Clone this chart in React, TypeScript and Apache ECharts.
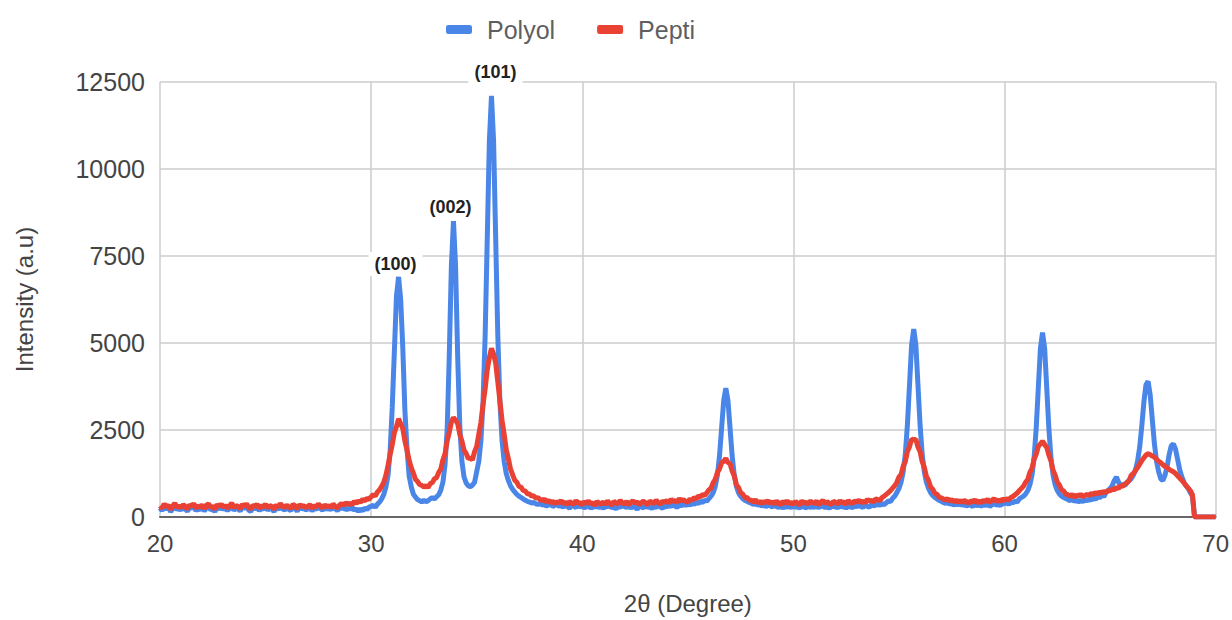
import React, { useEffect, useRef } from "react";
import * as echarts from "echarts";

// 2θ grid: first angle and step (degrees)
const ANGLE_START = 20;
const ANGLE_STEP = 0.1;

// Polyol intensities, one row per degree (x.0 … x.9)
const polyol = [
  260, 180, 310, 220, 290, 150, 240, 330, 200, 270, // 20
  190, 300, 230, 160, 280, 250, 320, 180, 240, 210, // 21
  290, 170, 260, 310, 200, 240, 150, 280, 230, 300, // 22
  210, 270, 180, 250, 320, 190, 260, 230, 170, 290, // 23
  240, 310, 200, 160, 270, 230, 290, 180, 250, 220, // 24
  300, 190, 260, 230, 150, 280, 210, 320, 240, 200, // 25
  270, 220, 180, 300, 250, 160, 290, 230, 260, 200, // 26
  230, 290, 170, 260, 210, 310, 240, 190, 280, 220, // 27
  260, 200, 300, 240, 180, 270, 230, 310, 200, 250, // 28
  220, 280, 190, 240, 160, 230, 180, 260, 210, 290, // 29
  300, 340, 280, 370, 430, 520, 650, 860, 1200, 1900, // 30
  3150, 4750, 6350, 6900, 6250, 4850, 3050, 1950, 1180, 870, // 31
  660, 570, 500, 470, 430, 480, 440, 470, 520, 560, // 32
  520, 580, 640, 770, 1000, 1500, 2500, 4600, 7200, 8500, // 33
  7200, 4600, 2600, 1600, 1150, 980, 900, 870, 920, 1000, // 34
  1300, 1600, 2200, 3300, 5200, 8000, 10800, 12100, 10800, 8000, // 35
  5200, 3300, 2200, 1600, 1250, 1050, 900, 800, 720, 650, // 36
  600, 560, 520, 480, 450, 430, 400, 420, 380, 360, // 37
  390, 340, 370, 310, 350, 380, 300, 340, 360, 310, // 38
  330, 280, 360, 300, 250, 340, 310, 270, 350, 290, // 39
  320, 260, 300, 350, 240, 310, 280, 330, 270, 300, // 40
  250, 320, 290, 340, 260, 300, 230, 310, 280, 330, // 41
  300, 270, 340, 250, 310, 280, 220, 320, 290, 260, // 42
  330, 280, 300, 240, 310, 270, 340, 290, 250, 320, // 43
  290, 340, 300, 360, 310, 280, 350, 320, 370, 330, // 44
  380, 340, 400, 360, 420, 390, 450, 420, 480, 460, // 45
  530, 600, 700, 880, 1200, 1750, 2550, 3350, 3700, 3350, // 46
  2550, 1750, 1200, 880, 700, 600, 530, 480, 450, 420, // 47
  400, 360, 390, 340, 370, 310, 350, 300, 340, 320, // 48
  290, 340, 300, 270, 330, 250, 310, 280, 320, 260, // 49
  330, 280, 300, 250, 340, 290, 260, 320, 270, 300, // 50
  280, 320, 260, 340, 300, 270, 310, 240, 330, 290, // 51
  300, 260, 340, 280, 310, 250, 320, 290, 270, 330, // 52
  290, 340, 300, 270, 350, 310, 280, 360, 320, 340, // 53
  370, 330, 390, 350, 410, 460, 440, 540, 600, 700, // 54
  820, 1000, 1300, 1800, 2650, 3800, 4950, 5400, 4950, 3800, // 55
  2650, 1800, 1300, 1000, 820, 700, 620, 560, 520, 480, // 56
  450, 420, 390, 430, 360, 400, 340, 380, 350, 390, // 57
  330, 370, 310, 360, 340, 300, 380, 320, 350, 310, // 58
  360, 330, 380, 300, 350, 390, 340, 370, 320, 400, // 59
  380, 420, 360, 440, 400, 460, 430, 520, 560, 600, // 60
  660, 760, 920, 1200, 1700, 2550, 3700, 4850, 5300, 4850, // 61
  3700, 2550, 1700, 1200, 920, 760, 660, 600, 560, 530, // 62
  500, 470, 520, 450, 490, 430, 480, 440, 500, 460, // 63
  520, 480, 560, 500, 600, 540, 650, 580, 700, 760, // 64
  820, 900, 1050, 1150, 1000, 880, 950, 900, 1000, 1050, // 65
  1100, 1200, 1350, 1600, 2000, 2600, 3300, 3800, 3900, 3500, // 66
  2800, 2100, 1600, 1300, 1100, 1050, 1200, 1450, 1800, 2050, // 67
  2100, 1950, 1650, 1350, 1150, 1000, 900, 820, 700, 600, // 68
  0, 0, 0, 0, 0, 0, 0, 0, 0, 0, // 69
  0, // 70
];

// Pepti intensities, same grid
const pepti = [
  320, 250, 380, 290, 340, 220, 310, 400, 270, 330, // 20
  260, 360, 300, 230, 350, 310, 390, 250, 320, 280, // 21
  350, 240, 330, 380, 270, 310, 220, 360, 300, 370, // 22
  280, 340, 250, 320, 400, 260, 330, 300, 240, 360, // 23
  310, 380, 270, 230, 340, 300, 370, 250, 320, 290, // 24
  370, 260, 330, 300, 220, 350, 280, 390, 310, 270, // 25
  340, 290, 250, 370, 320, 230, 360, 300, 330, 270, // 26
  300, 360, 240, 330, 280, 380, 310, 260, 350, 290, // 27
  330, 270, 370, 310, 250, 340, 390, 330, 410, 360, // 28
  400, 350, 450, 390, 470, 420, 510, 460, 540, 500, // 29
  580, 650, 600, 720, 780, 880, 1000, 1200, 1480, 1800, // 30
  2080, 2420, 2600, 2820, 2680, 2540, 2180, 1920, 1630, 1420, // 31
  1260, 1080, 1020, 930, 910, 860, 900, 850, 960, 990, // 32
  1100, 1130, 1280, 1380, 1640, 1820, 2180, 2430, 2720, 2860, // 33
  2780, 2680, 2380, 2180, 1920, 1830, 1680, 1700, 1640, 1880, // 34
  2030, 2380, 2720, 3230, 3680, 4230, 4580, 4850, 4680, 4420, // 35
  3880, 3330, 2780, 2380, 1930, 1680, 1380, 1220, 1060, 1000, // 36
  880, 860, 760, 750, 670, 660, 600, 610, 540, 560, // 37
  500, 470, 520, 430, 480, 400, 460, 380, 440, 410, // 38
  470, 380, 430, 350, 450, 400, 360, 480, 390, 420, // 39
  350, 440, 390, 460, 370, 420, 330, 450, 400, 380, // 40
  430, 360, 470, 390, 340, 450, 410, 370, 480, 400, // 41
  380, 450, 350, 420, 470, 390, 440, 360, 410, 460, // 42
  400, 350, 460, 420, 380, 490, 410, 370, 450, 430, // 43
  470, 400, 510, 440, 480, 420, 530, 460, 500, 450, // 44
  430, 520, 470, 560, 520, 600, 580, 650, 620, 700, // 45
  780, 830, 990, 1080, 1280, 1380, 1560, 1600, 1680, 1570, // 46
  1530, 1320, 1180, 930, 850, 700, 660, 560, 560, 490, // 47
  480, 430, 500, 400, 460, 380, 450, 410, 470, 390, // 48
  440, 370, 460, 400, 350, 450, 390, 470, 380, 420, // 49
  360, 450, 400, 340, 470, 390, 430, 370, 460, 410, // 50
  390, 460, 350, 420, 480, 380, 440, 400, 350, 450, // 51
  420, 370, 470, 400, 440, 360, 480, 410, 390, 460, // 52
  430, 490, 410, 460, 400, 510, 450, 480, 430, 520, // 53
  500, 470, 560, 600, 650, 700, 760, 830, 900, 1000, // 54
  1150, 1220, 1460, 1590, 1880, 2020, 2240, 2220, 2230, 2010, // 55
  1880, 1590, 1430, 1170, 1050, 860, 800, 680, 660, 570, // 56
  550, 520, 490, 530, 460, 500, 440, 480, 430, 470, // 57
  420, 480, 440, 390, 470, 430, 500, 410, 460, 420, // 58
  480, 440, 510, 420, 470, 530, 450, 490, 440, 520, // 59
  480, 520, 500, 560, 590, 640, 690, 760, 820, 890, // 60
  1000, 1080, 1280, 1400, 1660, 1800, 2030, 2100, 2180, 2080, // 61
  2000, 1780, 1610, 1340, 1200, 1000, 920, 780, 750, 660, // 62
  640, 600, 650, 570, 630, 590, 660, 580, 620, 650, // 63
  620, 680, 640, 700, 660, 720, 680, 740, 700, 760, // 64
  750, 800, 780, 850, 820, 900, 880, 950, 980, 1050, // 65
  1200, 1250, 1330, 1420, 1520, 1620, 1700, 1780, 1820, 1790, // 66
  1750, 1720, 1660, 1600, 1560, 1500, 1450, 1420, 1370, 1330, // 67
  1300, 1250, 1180, 1120, 1050, 980, 900, 830, 760, 640, // 68
  0, 0, 0, 0, 0, 0, 0, 0, 0, 0, // 69
  0, // 70
];

// Miller-index annotations: label text, and the peak (2θ, intensity) each sits above
const peakLabels = ["(100)", "(002)", "(101)"];
const peakAngles = [31.3, 33.9, 35.7];
const peakIntensities = [6900, 8500, 12100];

const seriesNames = ["Polyol", "Pepti"];

function toPairs(values: number[]) {
  return values.map((v, i) => [+(ANGLE_START + i * ANGLE_STEP).toFixed(1), v]);
}

export default function App() {
  const ref = useRef<HTMLDivElement>(null);

  useEffect(() => {
    if (!ref.current) return;
    const chart = echarts.init(ref.current, undefined, { renderer: "svg" });
    const font = "Liberation Sans, Arial, sans-serif";
    const labelOffsets = [
      [-3, -13],
      [-3, -14],
      [4, -24],
    ];
    chart.setOption({
      animation: false,
      backgroundColor: "#ffffff",
      textStyle: { fontFamily: font },
      color: ["#4a86e8", "#e94235"],
      legend: {
        data: seriesNames,
        left: 441,
        top: 12,
        icon: "roundRect",
        itemWidth: 26,
        itemHeight: 9,
        itemGap: 42,
        textStyle: { fontSize: 25, color: "#5f5f5f", padding: [0, 0, 0, 10] },
      },
      grid: { left: 160, right: 15, top: 82, bottom: 103 },
      xAxis: {
        type: "value",
        min: 20,
        max: 70,
        interval: 10,
        name: "2θ (Degree)",
        nameLocation: "middle",
        nameGap: 74,
        nameTextStyle: { fontSize: 24, color: "#444" },
        axisLine: { show: true, onZero: false, lineStyle: { color: "#666", width: 2 } },
        axisTick: { show: false },
        axisLabel: { fontSize: 24, color: "#444", margin: 14 },
        splitLine: { show: true, lineStyle: { color: "#cccccc", width: 1.5 } },
      },
      yAxis: {
        type: "value",
        min: 0,
        max: 12500,
        interval: 2500,
        name: "Intensity (a.u)",
        nameLocation: "middle",
        nameGap: 124,
        nameTextStyle: { fontSize: 24, color: "#444" },
        axisLine: { show: false },
        axisTick: { show: false },
        axisLabel: { fontSize: 25, color: "#444", margin: 15, formatter: (v: number) => String(v) },
        splitLine: { show: true, lineStyle: { color: "#cccccc", width: 1.5 } },
      },
      series: [
        {
          name: seriesNames[0],
          type: "line",
          data: toPairs(polyol),
          showSymbol: false,
          symbol: "none",
          lineStyle: { width: 5, color: "#4a86e8" },
          z: 2,
        },
        {
          name: seriesNames[1],
          type: "line",
          data: toPairs(pepti),
          showSymbol: false,
          symbol: "none",
          lineStyle: { width: 5, color: "#e94235" },
          z: 3,
          markPoint: {
            symbol: "circle",
            symbolSize: 0,
            silent: true,
            z: 10,
            label: {
              show: true,
              position: "inside",
              fontSize: 18,
              fontWeight: "bold",
              color: "#222",
              backgroundColor: "#ffffff",
              padding: [3, 6],
            },
            data: peakLabels.map((t, i) => ({
              coord: [peakAngles[i], peakIntensities[i]],
              value: t,
              label: { formatter: t, offset: labelOffsets[i] },
            })),
          },
        },
      ],
    });
    return () => chart.dispose();
  }, []);

  return (
    <div
      ref={ref}
      style={{ position: "fixed", left: 0, top: 0, width: 1232, height: 620 }}
    />
  );
}
